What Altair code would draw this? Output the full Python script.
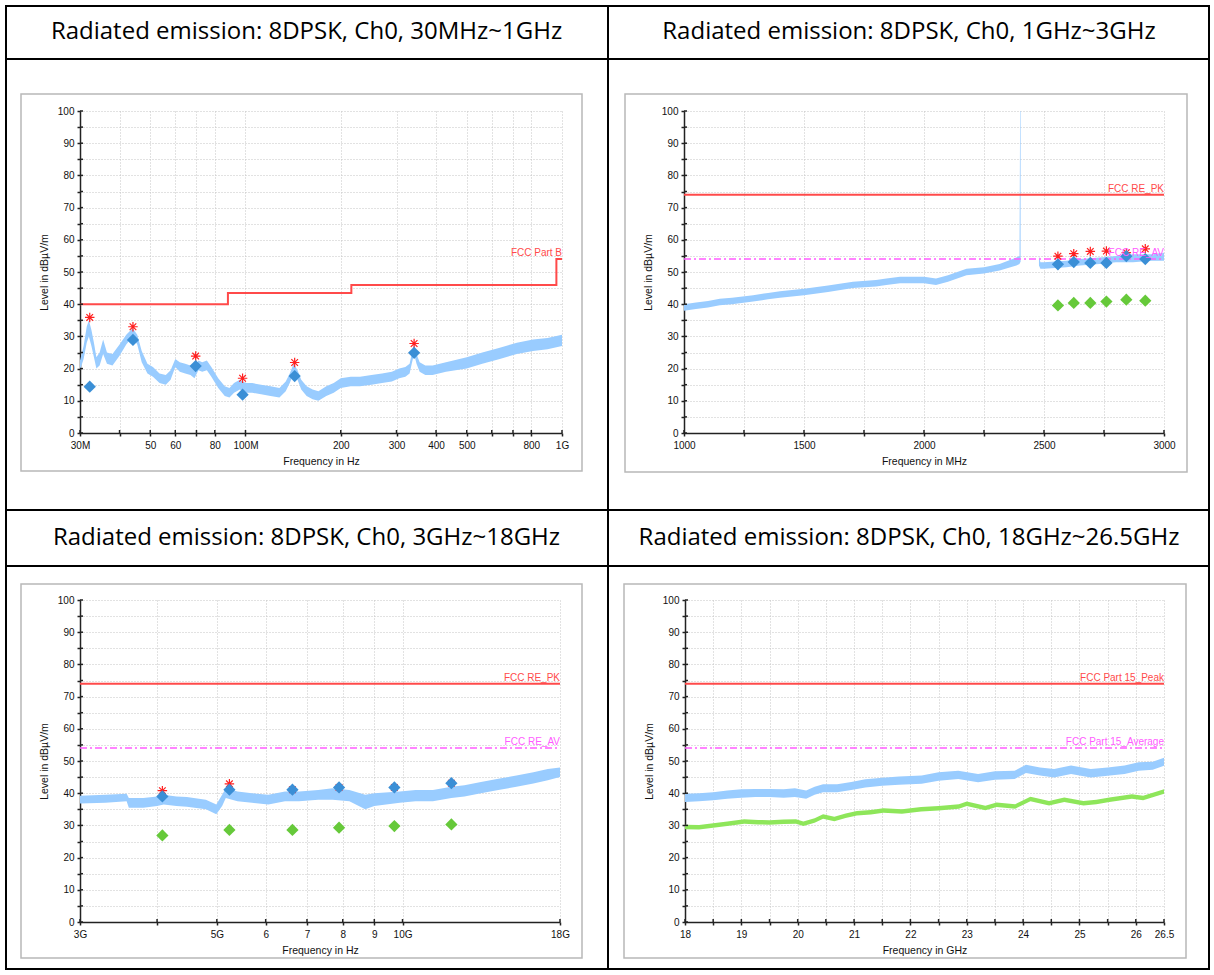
import altair as alt
import pandas as pd

# ---------------- data ----------------
titles = [
    "Radiated emission: 8DPSK, Ch0, 30MHz~1GHz",
    "Radiated emission: 8DPSK, Ch0, 1GHz~3GHz",
    "Radiated emission: 8DPSK, Ch0, 3GHz~18GHz",
    "Radiated emission: 8DPSK, Ch0, 18GHz~26.5GHz",
]
x_titles = ["Frequency in Hz", "Frequency in MHz", "Frequency in Hz", "Frequency in GHz"]
y_title = "Level in dBµV/m"
y_ticks = [0, 5, 10, 15, 20, 25, 30, 35, 40, 45, 50, 55, 60, 65, 70, 75, 80, 85, 90, 95, 100]
y_tick_labels = ["0", "", "10", "", "20", "", "30", "", "40", "", "50", "", "60", "", "70", "", "80", "", "90", "", "100"]

# panel 1 : 30 MHz - 1 GHz (MHz, log)
p1_ticks = [30, 40, 50, 60, 70, 80, 100, 200, 300, 400, 500, 600, 700, 800, 1000]
p1_tick_labels = ["30M", "", "50", "60", "", "80", "100M", "200", "300", "400", "500", "", "", "800", "1G"]
p1_f = [30, 30.8, 31.5, 32, 32.6, 33.2, 33.8, 34.6, 35.5, 36.5, 38, 40, 42, 44, 45.5, 47, 49, 51, 53.5,
        56, 58, 60, 62, 64.5, 67, 69, 71, 73, 75.5, 78, 82, 86, 89, 92, 96, 100, 105, 112, 120, 128, 134,
        138, 142, 146, 150, 156, 163, 170, 180, 190, 200, 215, 230, 250, 270, 290, 306, 320, 330, 336,
        341, 347, 355, 370, 390, 430, 500, 560, 636, 720, 810, 900, 1000]
p1_lo = [19.5, 23, 28, 30, 27, 23.5, 20, 21, 24.5, 21.5, 21, 24, 27.5, 30, 27.5, 22, 18.5, 17.5, 15.5,
         15, 16.5, 20.5, 19, 18.5, 18, 17, 19.5, 19, 19.5, 17.5, 14, 11.5, 11, 12.5, 13.5, 12.5, 12.5, 12,
         11.5, 11, 13, 15.5, 18.5, 16.5, 13.5, 11.5, 10.5, 10, 11.5, 12.5, 14, 14.5, 14.5, 15, 15.5, 16,
         17, 17.5, 18.5, 22, 24.5, 21.5, 19, 18, 18, 19, 20, 21.5, 23, 24.5, 25.5, 26, 27]
p1_hi = [22.5, 27, 33, 35, 32, 28, 23.5, 25, 29, 25, 24.5, 27.5, 30.5, 32.5, 30.5, 25.5, 21.5, 20.5, 18.5,
         18, 19.5, 23, 22, 21.5, 21, 20, 22.5, 22, 22.5, 20.5, 17, 14.5, 14, 15.5, 16.5, 15.5, 15.5, 15,
         14.5, 14, 16, 18.5, 21.5, 19.5, 16.5, 14.5, 13.5, 13, 14.5, 15.5, 17, 17.5, 17.5, 18, 18.5, 19,
         20, 20.5, 21.5, 25, 27.5, 24.5, 22, 21, 21, 22, 23.5, 25, 26.5, 28, 29, 29.5, 30.5]
p1_lim_f = [30, 88, 216, 960, 1000]
p1_lim = [40, 43.5, 46, 54, 54]
p1_mk_f = [32.2, 44.1, 69.6, 97.9, 143, 341]
p1_pk = [35.9, 33.0, 23.9, 17.0, 21.9, 27.8]
p1_qp = [14.4, 28.9, 20.8, 11.9, 17.7, 24.9]
p1_lim_label = "FCC Part B"

# panel 2 : 1 - 3 GHz (MHz, linear)
p2_ticks = [1000, 1250, 1500, 1750, 2000, 2250, 2500, 2750, 3000]
p2_tick_labels = ["1000", "", "1500", "", "2000", "", "2500", "", "3000"]
p2_f = [1000, 1050, 1100, 1149, 1200, 1288, 1350, 1400, 1500, 1600, 1704, 1800, 1843, 1900, 1950, 2000,
        2050, 2100, 2177, 2250, 2315, 2385, 2398, 2400.5, 2402.5,
        2479, 2485, 2500, 2593, 2650, 2732, 2800, 2871, 2950, 3000]
p2_seg = ["a"] * 25 + ["b"] * 10
p2_lo = [38, 38.5, 39, 39.7, 40, 40.8, 41.5, 42, 42.8, 43.8, 45, 45.5, 46, 46.5, 46.5, 46.5,
         46, 47, 49, 49.5, 50.5, 52, 52.5, 53, 53,
         52, 51, 51, 51.5, 52, 52.5, 53, 53, 53.5, 53.5]
p2_hi = [40, 40.5, 41, 41.7, 42, 42.8, 43.5, 44, 44.8, 45.8, 47, 47.5, 48, 48.5, 48.5, 48.5,
         48, 49, 51, 51.5, 52.5, 54.5, 55, 100, 100,
         55, 53, 53, 53.5, 54, 54.5, 55, 55.5, 55.5, 56]
p2_mk_f = [2558, 2624, 2693, 2760, 2843, 2922]
p2_pk = [54.9, 55.7, 56.4, 56.5, 56.0, 57.2]
p2_qp = [52.4, 53.1, 52.8, 52.8, 54.9, 54.0]
p2_av = [39.6, 40.4, 40.4, 40.8, 41.4, 41.1]

# panel 3 : 3 - 18 GHz (GHz, log)
p3_ticks = [3, 4, 5, 6, 7, 8, 9, 10, 18]
p3_tick_labels = ["3G", "", "5G", "6", "7", "8", "9", "10G", "18G"]
p3_f = [3.0, 3.3, 3.57, 3.6, 3.8, 4.0, 4.1, 4.3, 4.47, 4.8, 4.99, 5.1, 5.17, 5.4, 5.7, 6.06, 6.45, 6.8,
        7.3, 7.7, 8.2, 8.7, 9.0, 9.9, 10.5, 11.2, 12.0, 12.6, 13.4, 14.3, 15.3, 16.3, 17.2, 18]
p3_lo = [36.8, 37, 37.5, 35.5, 35.5, 36, 36.5, 36, 35.8, 35, 33.5, 36, 38.5, 37.5, 37, 36.5, 37.5, 37.5,
         38, 38, 37.5, 35, 36, 37, 37.5, 37.5, 38.5, 39, 40, 41, 42, 43, 44, 45]
p3_hi = [39.2, 39.5, 39.8, 38.5, 38.5, 39, 39.5, 39, 38.8, 38, 36.5, 39.5, 41.5, 40.5, 40, 39.5, 40.5, 40.5,
         41, 41.5, 41, 39.5, 40, 40.5, 41, 41, 42, 42.5, 43.5, 44.5, 45.5, 46.5, 47.5, 48]
p3_mk_f = [4.08, 5.24, 6.63, 7.89, 9.7, 12.0]
p3_pk = [40.8, 42.9, 41.1, 41.8, 41.8, 43.1]
p3_qp = [39.0, 41.1, 41.1, 41.8, 41.8, 43.1]
p3_av = [26.9, 28.6, 28.6, 29.3, 29.8, 30.3]

# panel 4 : 18 - 26.5 GHz (GHz, linear)
p4_ticks = [18, 18.5, 19, 19.5, 20, 20.5, 21, 21.5, 22, 22.5, 23, 23.5, 24, 24.5, 25, 25.5, 26, 26.5]
p4_tick_labels = ["18", "", "19", "", "20", "", "21", "", "22", "", "23", "", "24", "", "25", "", "26", "26.5"]
p4_pk_f = [18.0, 18.25, 18.5, 18.75, 19.0, 19.25, 19.5, 19.75, 19.95, 20.15, 20.3, 20.45, 20.7, 20.95, 21.2,
           21.5, 21.8, 22.2, 22.5, 22.85, 23.2, 23.5, 23.85, 24.05, 24.3, 24.55, 24.85, 25.2, 25.5, 25.8,
           26.05, 26.3, 26.5]
p4_pk_lo = [37.3, 37.5, 37.8, 38.3, 38.6, 38.8, 38.8, 38.6, 38.8, 38.3, 39.5, 40.3, 40.3, 41, 41.8,
            42.3, 42.6, 42.9, 43.9, 44.4, 43.4, 44.2, 44.4, 46.3, 45.5, 44.9, 46, 44.9, 45.4, 46,
            47, 47.3, 48.5]
p4_pk_hi = [39.8, 40, 40.3, 40.8, 41.2, 41.3, 41.3, 41.2, 41.5, 40.8, 42, 42.8, 42.8, 43.5, 44.3,
            44.8, 45.2, 45.5, 46.5, 47, 46, 46.8, 47, 48.8, 48, 47.5, 48.6, 47.5, 48, 48.6,
            49.6, 49.8, 51]
p4_av_f = [18.0, 18.25, 18.5, 18.75, 19.05, 19.3, 19.5, 19.75, 19.97, 20.1, 20.3, 20.45, 20.65, 20.85, 21.05,
           21.3, 21.52, 21.85, 22.19, 22.5, 22.86, 23.0, 23.33, 23.53, 23.86, 24.13, 24.46, 24.73, 25.07,
           25.3, 25.53, 25.93, 26.13, 26.5]
p4_av_lo = [28.8, 28.7, 29.3, 29.8, 30.5, 30.3, 30.2, 30.4, 30.5, 29.8, 30.8, 32.1, 31.3, 32.3, 33.1,
            33.4, 33.9, 33.6, 34.3, 34.6, 35.2, 36, 34.7, 35.7, 35.2, 37.5, 36.2, 37.3, 36.2,
            36.6, 37.3, 38.3, 37.8, 39.8]
p4_av_hi = [30.2, 30.1, 30.7, 31.2, 31.9, 31.7, 31.6, 31.8, 31.9, 31.2, 32.2, 33.5, 32.7, 33.7, 34.5,
            34.8, 35.3, 35, 35.7, 36, 36.6, 37.4, 36.1, 37.1, 36.6, 38.9, 37.6, 38.7, 37.6,
            38, 38.7, 39.7, 39.2, 41.2]

pk_limit = 74
av_limit = 54
lim_labels_re = ["FCC RE_PK", "FCC RE_AV"]
lim_labels_15 = ["FCC Part 15_Peak", "FCC Part 15_Average"]

# ---------------- styling ----------------
AX_FONT = "Liberation Sans"
TITLE_FONT = "Open Sans"
TRACE_BLUE = "#99ccff"
TRACE_GREEN = "#8ee65a"
QP_BLUE = "#3b8fd6"
AV_GREEN = "#66c93a"
LIM_RED = "#ff4a4a"
LIM_MAG = "#ff5cff"
PK_RED = "#ff2020"
AXIS_INK = "#222"
ASTERISK = "M-1,0H1M0,-1V1M-0.7,-0.7L0.7,0.7M-0.7,0.7L0.7,-0.7"


def label_expr(vals, labels):
    v = ",".join(str(x) for x in vals)
    l = ",".join("'" + s + "'" for s in labels)
    return "[" + l + "][indexof([" + v + "], datum.value)]"


def one():
    return pd.DataFrame({"k": [0]})


def rect(x0, x1, y0, y1, **kw):
    return alt.Chart(one()).mark_rect(**kw).encode(
        x=alt.value(x0), x2=alt.value(x1), y=alt.value(y0), y2=alt.value(y1))


def cell(w, h, fr, box, title, title_pos, xscale, xaxis_vals, xaxis_labels, xtitle,
         layers, outer):
    x0, x1, y0, y1, sep = fr
    lt, rt, tp, bt = outer
    yscale = alt.Scale(domain=[0, 100], nice=False, zero=False)
    common = dict(labelFont=AX_FONT, titleFont=AX_FONT, labelFontSize=10, titleFontSize=10.5,
                  titleFontWeight="normal", labelColor="#111", titleColor="#111",
                  domainColor=AXIS_INK, domainWidth=1.5, tickColor=AXIS_INK, tickWidth=1.5, tickSize=3,
                  labelOverlap=False, labelFlush=False,
                  gridColor="#c4c4c4", gridDash=[1, 2], gridWidth=1)
    xaxis = alt.Axis(values=xaxis_vals, labelExpr=label_expr(xaxis_vals, xaxis_labels),
                     title=xtitle, labelPadding=4, titlePadding=6, **common)
    yaxis = alt.Axis(values=y_ticks, labelExpr=label_expr(y_ticks, y_tick_labels),
                     title=y_title, labelPadding=3, titlePadding=8, **common)
    box_l = rect(box[0], box[1], box[2], box[3], filled=False, stroke="#b8b8b8", strokeWidth=1.5)
    data_layers = [f(xscale, yscale, xaxis, yaxis) for f in layers]
    # inner halves of the crossing axis ticks, placed through the scales
    ytick_in = alt.Chart(pd.DataFrame({"v": y_ticks})).mark_rule(
        color=AXIS_INK, strokeWidth=1.5).encode(
        y=alt.Y("v:Q", scale=yscale, axis=yaxis), x=alt.value(0), x2=alt.value(3))
    xtick_in = alt.Chart(pd.DataFrame({"f": xaxis_vals})).mark_rule(
        color=AXIS_INK, strokeWidth=1.5).encode(
        x=alt.X("f:Q", scale=xscale, axis=xaxis), y=alt.value(h), y2=alt.value(h - 3))
    tdf = pd.DataFrame({"t": [title]})
    ttl = alt.Chart(tdf).mark_text(font=TITLE_FONT, fontSize=24, color="black", baseline="middle",
                                   align="center").encode(
        x=alt.value(title_pos[0]), y=alt.value(title_pos[1]), text="t:N")
    borders = [
        rect(x0, x1, y0, y0 + tp, fill="black", opacity=1),
        rect(x0, x1, y1 - bt, y1, fill="black", opacity=1),
        rect(x0, x0 + lt, y0, y1, fill="black", opacity=1),
        rect(x1 - rt, x1, y0, y1, fill="black", opacity=1),
        rect(x0, x1, sep, sep + 2, fill="black", opacity=1),
    ]
    return alt.layer(box_l, *data_layers, ytick_in, xtick_in, ttl, *borders).properties(width=w, height=h)


def band(df, color):
    def f(xs, ys, xa, ya):
        enc = dict(
            x=alt.X("f:Q", scale=xs, axis=xa),
            y=alt.Y("lo:Q", scale=ys, axis=ya),
            y2="hi:Q",
        )
        if "seg" in df.columns:
            enc["detail"] = "seg:N"
        return alt.Chart(df).mark_area(color=color, opacity=1, interpolate="linear").encode(**enc)
    return f


def line(df, color, width, dash=None, step=False):
    def f(xs, ys, xa, ya):
        kw = dict(color=color, strokeWidth=width)
        if dash:
            kw["strokeDash"] = dash
        if step:
            kw["interpolate"] = "step-after"
        return alt.Chart(df).mark_line(**kw).encode(
            x=alt.X("f:Q", scale=xs, axis=xa), y=alt.Y("v:Q", scale=ys, axis=ya))
    return f


def points(df, shape, color, size, filled=True, sw=1.0):
    def f(xs, ys, xa, ya):
        if filled:
            m = alt.Chart(df).mark_point(shape=shape, filled=True, color=color, size=size, opacity=1)
        else:
            m = alt.Chart(df).mark_point(shape=shape, filled=False, color=color, size=size, opacity=1,
                                         strokeWidth=sw)
        return m.encode(x=alt.X("f:Q", scale=xs, axis=xa), y=alt.Y("v:Q", scale=ys, axis=ya))
    return f


def labels(df, color):
    def f(xs, ys, xa, ya):
        return alt.Chart(df).mark_text(font=AX_FONT, fontSize=10, color=color, align="right",
                                       baseline="bottom", dy=-1).encode(
            x=alt.X("f:Q", scale=xs, axis=xa), y=alt.Y("v:Q", scale=ys, axis=ya), text="t:N")
    return f


def hline(x0, x1, v):
    return pd.DataFrame({"f": [x0, x1], "v": [v, v]})


DIA = 150
AST = 90

# ---------- panel 1 ----------
xs1 = alt.Scale(type="log", domain=[30, 1000], nice=False, zero=False)
d1 = pd.DataFrame({"f": p1_f, "lo": p1_lo, "hi": p1_hi})
c1 = cell(482, 322, (-75, 528, -106, 399, -53), (-59, 502, -17, 360), titles[0], (226.5, -79),
          xs1, p1_ticks, p1_tick_labels, x_titles[0],
          [band(d1, TRACE_BLUE),
           line(pd.DataFrame({"f": p1_lim_f, "v": p1_lim}), LIM_RED, 2, step=True),
           labels(pd.DataFrame({"f": [1000], "v": [54], "t": [p1_lim_label]}), LIM_RED),
           points(pd.DataFrame({"f": p1_mk_f, "v": p1_pk}), ASTERISK, PK_RED, AST, filled=False, sw=1.2),
           points(pd.DataFrame({"f": p1_mk_f, "v": p1_qp}), "diamond", QP_BLUE, DIA)],
          (2, 1, 2, 1))

# ---------- panel 2 ----------
xs2 = alt.Scale(domain=[1000, 3000], nice=False, zero=False)
d2 = pd.DataFrame({"f": p2_f, "lo": p2_lo, "hi": p2_hi, "seg": p2_seg})
c2 = cell(480, 322, (-76, 526, -106, 399, -53), (-59, 503, -17, 361), titles[1], (225, -79),
          xs2, p2_ticks, p2_tick_labels, x_titles[1],
          [band(d2, TRACE_BLUE),
           line(hline(1000, 3000, pk_limit), LIM_RED, 2),
           line(hline(1000, 3000, av_limit), LIM_MAG, 1.5, dash=[7, 3, 2, 3]),
           points(pd.DataFrame({"f": p2_mk_f, "v": p2_pk}), ASTERISK, PK_RED, AST, filled=False, sw=1.2),
           points(pd.DataFrame({"f": p2_mk_f, "v": p2_qp}), "diamond", QP_BLUE, DIA),
           points(pd.DataFrame({"f": p2_mk_f, "v": p2_av}), "diamond", AV_GREEN, DIA),
           labels(pd.DataFrame({"f": [3000], "v": [pk_limit], "t": [lim_labels_re[0]]}), LIM_RED),
           labels(pd.DataFrame({"f": [3000], "v": [av_limit], "t": [lim_labels_re[1]]}), LIM_MAG)],
          (1, 2, 2, 1))

# ---------- panel 3 ----------
xs3 = alt.Scale(type="log", domain=[3, 18], nice=False, zero=False)
d3 = pd.DataFrame({"f": p3_f, "lo": p3_lo, "hi": p3_hi})
c3 = cell(480, 322, (-75, 528, -90, 370, -35), (-59, 502, -16, 358), titles[2], (226.5, -62),
          xs3, p3_ticks, p3_tick_labels, x_titles[2],
          [band(d3, TRACE_BLUE),
           line(hline(3, 18, pk_limit), LIM_RED, 2),
           line(hline(3, 18, av_limit), LIM_MAG, 1.5, dash=[7, 3, 2, 3]),
           points(pd.DataFrame({"f": p3_mk_f, "v": p3_pk}), ASTERISK, PK_RED, AST, filled=False, sw=1.2),
           points(pd.DataFrame({"f": p3_mk_f, "v": p3_qp}), "diamond", QP_BLUE, DIA),
           points(pd.DataFrame({"f": p3_mk_f, "v": p3_av}), "diamond", AV_GREEN, DIA),
           labels(pd.DataFrame({"f": [18], "v": [pk_limit], "t": [lim_labels_re[0]]}), LIM_RED),
           labels(pd.DataFrame({"f": [18], "v": [av_limit], "t": [lim_labels_re[1]]}), LIM_MAG)],
          (2, 1, 1, 2))

# ---------- panel 4 ----------
xs4 = alt.Scale(domain=[18, 26.5], nice=False, zero=False)
d4a = pd.DataFrame({"f": p4_pk_f, "lo": p4_pk_lo, "hi": p4_pk_hi})
d4b = pd.DataFrame({"f": p4_av_f, "lo": p4_av_lo, "hi": p4_av_hi})
c4 = cell(479, 322, (-77, 525, -90, 370, -35), (-61, 501, -16, 358), titles[3], (224, -62),
          xs4, p4_ticks, p4_tick_labels, x_titles[3],
          [band(d4a, TRACE_BLUE),
           band(d4b, TRACE_GREEN),
           line(hline(18, 26.5, pk_limit), LIM_RED, 2),
           line(hline(18, 26.5, av_limit), LIM_MAG, 1.5, dash=[7, 3, 2, 3]),
           labels(pd.DataFrame({"f": [26.5], "v": [pk_limit], "t": [lim_labels_15[0]]}), LIM_RED),
           labels(pd.DataFrame({"f": [26.5], "v": [av_limit], "t": [lim_labels_15[1]]}), LIM_MAG)],
          (1, 2, 1, 2))

chart = alt.vconcat(
    alt.hconcat(c1, c2, spacing=0),
    alt.hconcat(c3, c4, spacing=0),
    spacing=0,
).properties(
    padding={"left": 5, "top": 5, "right": 4, "bottom": 5},
    background="white",
).configure_view(stroke=None)

chart.save("out.html", embed_options={"renderer": "svg", "actions": False})
